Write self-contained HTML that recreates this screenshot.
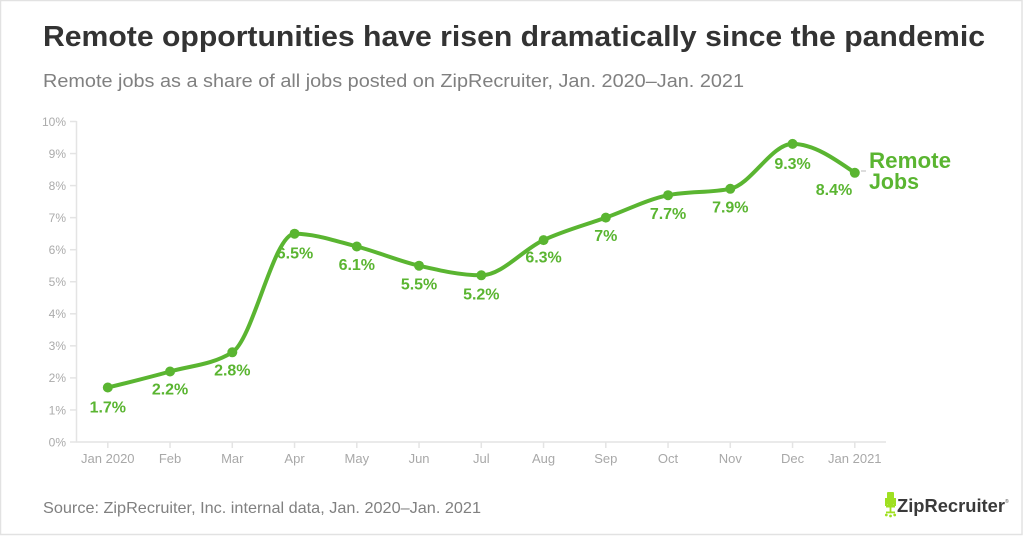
<!DOCTYPE html>
<html>
<head>
<meta charset="utf-8">
<style>
  html, body { margin: 0; padding: 0; background: #ffffff; }
  body { width: 1024px; height: 536px; overflow: hidden; }
  svg { display: block; }
  text { font-family: "Liberation Sans", "DejaVu Sans", sans-serif; }
</style>
</head>
<body>
<svg width="1024" height="536" viewBox="0 0 1024 536" xmlns="http://www.w3.org/2000/svg">
  <rect x="0" y="0" width="1024" height="536" fill="#ffffff"/>
  <rect x="0.5" y="0.5" width="1021.5" height="534" fill="none" stroke="#e2e2e2" stroke-width="1.5"/>

  <!-- Title -->
  <text x="43" y="46" font-size="29" font-weight="bold" fill="#333333" textLength="942" lengthAdjust="spacingAndGlyphs">Remote opportunities have risen dramatically since the pandemic</text>
  <!-- Subtitle -->
  <text x="43" y="87" font-size="18" fill="#808080" textLength="701" lengthAdjust="spacingAndGlyphs">Remote jobs as a share of all jobs posted on ZipRecruiter, Jan. 2020–Jan. 2021</text>

  <!-- Axes -->
  <g stroke="#e4e4e4" stroke-width="1.5" fill="none">
    <line x1="76.5" y1="121" x2="76.5" y2="442.5"/>
    <line x1="76" y1="442" x2="886" y2="442"/>
    <!-- y ticks -->
    <line x1="70" y1="442" x2="76.5" y2="442"/>
    <line x1="70" y1="409.95" x2="76.5" y2="409.95"/>
    <line x1="70" y1="377.9" x2="76.5" y2="377.9"/>
    <line x1="70" y1="345.85" x2="76.5" y2="345.85"/>
    <line x1="70" y1="313.8" x2="76.5" y2="313.8"/>
    <line x1="70" y1="281.75" x2="76.5" y2="281.75"/>
    <line x1="70" y1="249.7" x2="76.5" y2="249.7"/>
    <line x1="70" y1="217.65" x2="76.5" y2="217.65"/>
    <line x1="70" y1="185.6" x2="76.5" y2="185.6"/>
    <line x1="70" y1="153.55" x2="76.5" y2="153.55"/>
    <line x1="70" y1="121.5" x2="76.5" y2="121.5"/>
    <!-- x ticks -->
    <line x1="107.8" y1="442" x2="107.8" y2="448"/>
    <line x1="170.05" y1="442" x2="170.05" y2="448"/>
    <line x1="232.3" y1="442" x2="232.3" y2="448"/>
    <line x1="294.55" y1="442" x2="294.55" y2="448"/>
    <line x1="356.8" y1="442" x2="356.8" y2="448"/>
    <line x1="419.05" y1="442" x2="419.05" y2="448"/>
    <line x1="481.3" y1="442" x2="481.3" y2="448"/>
    <line x1="543.55" y1="442" x2="543.55" y2="448"/>
    <line x1="605.8" y1="442" x2="605.8" y2="448"/>
    <line x1="668.05" y1="442" x2="668.05" y2="448"/>
    <line x1="730.3" y1="442" x2="730.3" y2="448"/>
    <line x1="792.55" y1="442" x2="792.55" y2="448"/>
    <line x1="854.8" y1="442" x2="854.8" y2="448"/>
  </g>

  <!-- Y labels -->
  <g font-size="12" fill="#ababab" text-anchor="end">
    <text x="66" y="446.3">0%</text>
    <text x="66" y="414.3">1%</text>
    <text x="66" y="382.2">2%</text>
    <text x="66" y="350.2">3%</text>
    <text x="66" y="318.1">4%</text>
    <text x="66" y="286.1">5%</text>
    <text x="66" y="254">6%</text>
    <text x="66" y="222">7%</text>
    <text x="66" y="189.9">8%</text>
    <text x="66" y="157.9">9%</text>
    <text x="66" y="125.8">10%</text>
  </g>

  <!-- X labels -->
  <g font-size="13" fill="#a8a8a8" text-anchor="middle">
    <text x="107.8" y="463">Jan 2020</text>
    <text x="170.05" y="463">Feb</text>
    <text x="232.3" y="463">Mar</text>
    <text x="294.55" y="463">Apr</text>
    <text x="356.8" y="463">May</text>
    <text x="419.05" y="463">Jun</text>
    <text x="481.3" y="463">Jul</text>
    <text x="543.55" y="463">Aug</text>
    <text x="605.8" y="463">Sep</text>
    <text x="668.05" y="463">Oct</text>
    <text x="730.3" y="463">Nov</text>
    <text x="792.55" y="463">Dec</text>
    <text x="854.8" y="463">Jan 2021</text>
  </g>

  <!-- Series line -->
  <path fill="none" stroke="#5ab531" stroke-width="4" stroke-linecap="round" stroke-linejoin="round"
    d="M107.8,387.5
       C128.55,382.43 149.3,377.37 170.05,371.5
       C190.8,365.63 211.55,365.1 232.3,352.3
       C253.05,339.5 273.8,233.7 294.55,233.7
       C315.3,233.7 336.05,241.17 356.8,246.5
       C377.55,251.83 398.3,260.9 419.05,265.7
       C439.8,270.5 460.55,275.3 481.3,275.3
       C502.05,275.3 522.8,249.71 543.55,240.1
       C564.3,230.49 585.05,225.13 605.8,217.65
       C626.55,210.17 647.3,199.47 668.05,195.2
       C688.8,190.93 709.55,193.07 730.3,188.8
       C751.05,184.53 771.8,143.9 792.55,143.9
       C813.3,143.9 834.05,158.35 854.8,172.8"/>

  <!-- Dots -->
  <g fill="#5ab531">
    <circle cx="107.8" cy="387.5" r="5"/>
    <circle cx="170.05" cy="371.5" r="5"/>
    <circle cx="232.3" cy="352.3" r="5"/>
    <circle cx="294.55" cy="233.7" r="5"/>
    <circle cx="356.8" cy="246.5" r="5"/>
    <circle cx="419.05" cy="265.7" r="5"/>
    <circle cx="481.3" cy="275.3" r="5"/>
    <circle cx="543.55" cy="240.1" r="5"/>
    <circle cx="605.8" cy="217.65" r="5"/>
    <circle cx="668.05" cy="195.2" r="5"/>
    <circle cx="730.3" cy="188.8" r="5"/>
    <circle cx="792.55" cy="143.9" r="5"/>
    <circle cx="854.8" cy="172.8" r="5"/>
  </g>

  <!-- Data labels -->
  <g font-size="16" font-weight="bold" fill="#5ab531" text-anchor="middle">
    <text x="107.8" y="412.5">1.7%</text>
    <text x="170.05" y="394.5">2.2%</text>
    <text x="232.3" y="375.5">2.8%</text>
    <text x="295" y="258.5">6.5%</text>
    <text x="356.8" y="270">6.1%</text>
    <text x="419.05" y="289.5">5.5%</text>
    <text x="481.3" y="299.5">5.2%</text>
    <text x="543.55" y="262.5">6.3%</text>
    <text x="605.8" y="241">7%</text>
    <text x="668.05" y="219">7.7%</text>
    <text x="730.3" y="212.5">7.9%</text>
    <text x="792.55" y="169">9.3%</text>
    <text x="834" y="195">8.4%</text>
  </g>

  <!-- Series label -->
  <line x1="861" y1="171" x2="866" y2="171" stroke="#bbbbbb" stroke-width="1"/>
  <g font-size="22" font-weight="bold" fill="#5ab531">
    <text x="869" y="168" textLength="82" lengthAdjust="spacingAndGlyphs">Remote</text>
    <text x="869" y="189" textLength="50" lengthAdjust="spacingAndGlyphs">Jobs</text>
  </g>

  <!-- Source -->
  <text x="43" y="513" font-size="16" fill="#808080" textLength="438" lengthAdjust="spacingAndGlyphs">Source: ZipRecruiter, Inc. internal data, Jan. 2020–Jan. 2021</text>

  <!-- Logo -->
  <g fill="#9fe021">
    <rect x="887" y="492" width="7" height="13" rx="1"/>
    <rect x="885" y="498" width="2" height="8"/>
    <rect x="894" y="498" width="2" height="8"/>
    <rect x="886" y="505" width="9" height="2.5"/>
    <rect x="889.6" y="507" width="1.8" height="5"/>
    <rect x="886" y="511.5" width="9" height="1.8"/>
    <circle cx="886.3" cy="515" r="1.4"/>
    <circle cx="890.5" cy="516" r="1.4"/>
    <circle cx="894.7" cy="515" r="1.4"/>
  </g>
  <text x="897" y="512" font-size="18" font-weight="bold" fill="#3a3a3a" textLength="108" lengthAdjust="spacingAndGlyphs">ZipRecruiter</text>
  <text x="1005" y="503" font-size="5" fill="#555555">®</text>
</svg>
</body>
</html>
